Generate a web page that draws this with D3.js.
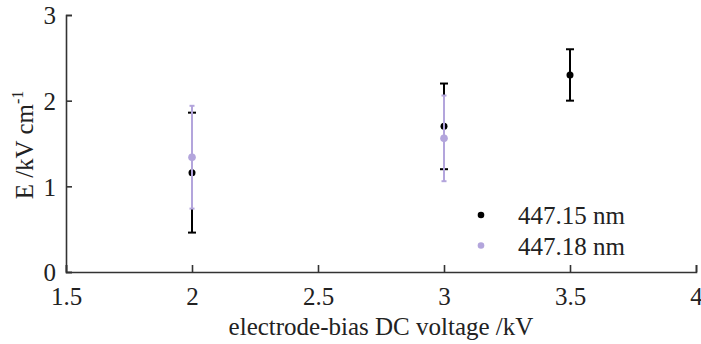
<!DOCTYPE html>
<html>
<head>
<meta charset="utf-8" />
<title></title>
<style>
html, body {
    padding: 0px;
    margin: 0px;
    background: #fff;
}
svg text {
    font-family: "Liberation Serif", serif !important;
    fill: #222;
}
</style>
</head>
<body>
<svg id="chart" width="701" height="344"></svg>
<script src="https://d3js.org/d3.v7.min.js"></script>
<script>
// data
var voltage15 = [2, 3, 3.5];
var field15 = [1.16, 1.70, 2.30];
var err15 = [0.70, 0.50, 0.30];

var voltage18 = [2, 3];
var field18 = [1.34, 1.56];
var err18 = [0.60, 0.50];

var xTicks = [1.5, 2, 2.5, 3, 3.5, 4];
var yTicks = [0, 1, 2, 3];
var legendLabels = ["447.15 nm", "447.18 nm"];

!(function(){
    "use strict"

    var svg = d3.select("#chart");
    var left = 66, right = 696, top = 15, bottom = 272;

    var x = d3.scaleLinear().domain([1.5, 4]).range([left, right]);
    var y = d3.scaleLinear().domain([0, 3]).range([bottom, top]);

    var xAxis = svg.append("g")
        .attr("transform", "translate(0," + bottom + ")")
        .call(d3.axisBottom(x).tickValues(xTicks).tickSize(-7)
            .tickFormat(d3.format("")));
    var yAxis = svg.append("g")
        .attr("transform", "translate(" + left + ",0)")
        .call(d3.axisLeft(y).tickValues(yTicks).tickSize(-6).tickPadding(10)
            .tickFormat(d3.format("d")));

    [xAxis, yAxis].forEach(function(g){
        g.attr("font-family", null);
        g.select(".domain").attr("stroke", "#333").attr("stroke-width", 1.6);
        g.selectAll(".tick line").attr("stroke", "#333").attr("stroke-width", 1.6);
        g.selectAll(".tick text").attr("font-size", 25).attr("fill", "#222");
    });
    xAxis.selectAll(".tick text").attr("dy", null).attr("y", 33);
    yAxis.selectAll(".tick text").attr("dy", "0.35em");

    svg.append("text")
        .attr("x", (left + right) / 2 - 0)
        .attr("y", 335)
        .attr("text-anchor", "middle")
        .attr("font-size", 25)
        .text("electrode-bias DC voltage /kV");

    var yl = svg.append("text")
        .attr("transform", "translate(33,145) rotate(-90)")
        .attr("text-anchor", "middle")
        .attr("font-size", 25);
    yl.append("tspan").text("E /kV cm");
    yl.append("tspan").attr("font-size", 16).attr("dy", -10).text("-1");

    function drawSeries(xs, ys, es, color, cap, r) {
        var g = svg.append("g");
        var pts = xs.map(function(d, i){ return {x: d, y: ys[i], e: es[i]}; });
        g.selectAll("line.bar").data(pts).enter().append("line")
            .attr("x1", function(d){ return x(d.x); })
            .attr("x2", function(d){ return x(d.x); })
            .attr("y1", function(d){ return y(d.y - d.e); })
            .attr("y2", function(d){ return y(d.y + d.e); })
            .attr("stroke", color).attr("stroke-width", 2);
        ["top", "bot"].forEach(function(k){
            g.selectAll("line." + k).data(pts).enter().append("line")
                .attr("x1", function(d){ return x(d.x) - cap; })
                .attr("x2", function(d){ return x(d.x) + cap; })
                .attr("y1", function(d){ return y(k == "top" ? d.y + d.e : d.y - d.e); })
                .attr("y2", function(d){ return y(k == "top" ? d.y + d.e : d.y - d.e); })
                .attr("stroke", color).attr("stroke-width", 2);
        });
        g.selectAll("circle").data(pts).enter().append("circle")
            .attr("cx", function(d){ return x(d.x); })
            .attr("cy", function(d){ return y(d.y); })
            .attr("r", r)
            .attr("fill", color);
    }

    var c15 = "#000", c18 = "#b3a5dc";
    drawSeries(voltage15, field15, err15, c15, 4, 3.5);
    drawSeries(voltage18, field18, err18, c18, 2.5, 3.8);

    var legend = svg.append("g");
    [c15, c18].forEach(function(c, i){
        legend.append("circle").attr("cx", 481).attr("cy", 215 + i * 30.5)
            .attr("r", 3.3).attr("fill", c);
        legend.append("text").attr("x", 518).attr("y", 224 + i * 30.5)
            .attr("font-size", 25).text(legendLabels[i]);
    });
}());
</script>
</body>
</html>
